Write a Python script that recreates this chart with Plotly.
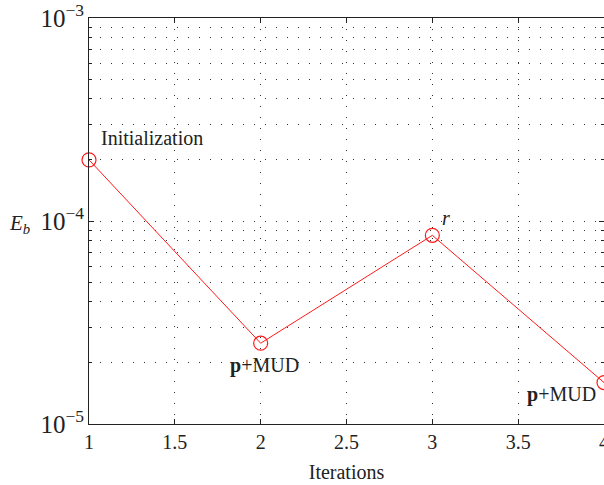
import math
import plotly.graph_objects as go

iterations = [1, 2, 3, 4]
eb_values = [2.0e-4, 2.5e-5, 8.5e-5, 1.6e-5]
point_labels = ["Initialization", "<b>p</b>+MUD", "<i>r</i>", "<b>p</b>+MUD"]
x_ticks = [1, 1.5, 2, 2.5, 3, 3.5, 4]
x_tick_text = ["1", "1.5", "2", "2.5", "3", "3.5", "4"]

FONT = "Liberation Serif"
RED = "#ff1a1a"
TXT = "#222"
FS = 20

fig = go.Figure()
fig.add_trace(go.Scatter(
    x=iterations, y=eb_values, mode="lines+markers",
    line=dict(color=RED, width=1),
    marker=dict(symbol="circle-open", size=14, color=RED, line=dict(width=1.2, color=RED)),
    showlegend=False, cliponaxis=False,
))

grid_dash = "1px,10px"
fig.update_xaxes(
    range=[1, 4], tickvals=x_ticks, ticktext=x_tick_text,
    showline=True, linecolor=TXT, linewidth=1, mirror="ticks",
    ticks="inside", ticklen=5, tickcolor=TXT,
    showgrid=True, gridcolor="#333", griddash=grid_dash, gridwidth=1,
    zeroline=False, automargin=False, ticklabeloverflow="allow",
    tickfont=dict(family=FONT, size=FS, color=TXT),
    title=dict(text="Iterations", font=dict(family=FONT, size=FS, color=TXT), standoff=12),
)
fig.update_yaxes(
    type="log", range=[-5, -3], dtick=1, exponentformat="power",
    showline=True, linecolor=TXT, linewidth=1, mirror="ticks",
    ticks="inside", ticklen=5, tickcolor=TXT,
    showgrid=True, gridcolor="#333", griddash=grid_dash, gridwidth=1,
    minor=dict(dtick="D1", ticks="inside", ticklen=3, tickcolor=TXT,
               showgrid=True, gridcolor="#333", griddash=grid_dash, gridwidth=1),
    zeroline=False, automargin=False,
    tickfont=dict(family=FONT, size=FS, color=TXT),
)

offsets = [(10, 22, "left"), (4, -22, "center"), (14, 17, "center"), (-6, -12, "right")]
for x, y, t, (dx, dy, anc) in zip(iterations, eb_values, point_labels, offsets):
    fig.add_annotation(x=x, y=math.log10(y), text=t, showarrow=False,
                       xanchor=anc, xshift=dx, yshift=dy,
                       font=dict(family=FONT, size=FS, color=TXT))

fig.add_annotation(xref="paper", x=0, y=-4, text="<i>E<sub>b</sub></i>", showarrow=False,
                   xanchor="center", xshift=-70, yshift=-3,
                   font=dict(family=FONT, size=21, color=TXT))

fig.update_layout(
    width=604, height=485,
    margin=dict(l=89, r=0, t=18, b=61),
    paper_bgcolor="white", plot_bgcolor="white",
    font=dict(family=FONT),
)
fig.write_html("out.html", config={"displayModeBar": False},
               post_script="document.body.style.margin='0';document.body.style.overflow='hidden';")
